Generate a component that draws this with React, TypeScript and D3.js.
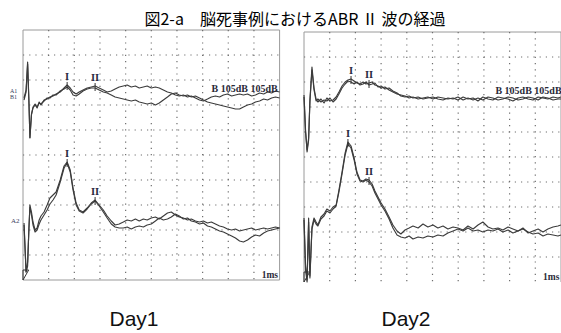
import React, { useRef, useEffect } from 'react';
import * as d3 from 'd3';

// time axis (ms) shared by the traces of each day
const day1Time = [0.04, 0.12, 0.18, 0.23, 0.27, 0.33, 0.39, 0.47, 0.55, 0.63, 0.70, 0.82, 0.94, 1.05, 1.17, 1.29, 1.45, 1.60, 1.72, 1.84,
  1.95, 2.07, 2.19, 2.34, 2.50, 2.66, 2.81, 2.97, 3.13, 3.28, 3.44, 3.59, 3.75, 3.91, 4.06, 4.22, 4.38, 4.53, 4.69, 4.84,
  5.00, 5.16, 5.31, 5.47, 5.63, 5.78, 5.94, 6.09, 6.25, 6.41, 6.56, 6.72, 6.88, 7.03, 7.19, 7.34, 7.50, 7.66, 7.81, 7.97,
  8.13, 8.28, 8.44, 8.59, 8.75, 8.91, 9.06, 9.22, 9.38, 9.53, 9.69, 9.84, 10.0];

const day2Time = [0, 0.06, 0.12, 0.18, 0.23, 0.31, 0.39, 0.47, 0.54, 0.66, 0.78, 0.89, 1.01, 1.13, 1.25, 1.36, 1.48, 1.60, 1.71, 1.83,
  1.95, 2.06, 2.18, 2.30, 2.41, 2.53, 2.65, 2.76, 2.88, 3.0, 3.15, 3.31, 3.46, 3.62, 3.77, 3.93, 4.09, 4.24,
  4.44, 4.63, 4.82, 5.02, 5.21, 5.41, 5.60, 5.80, 5.99, 6.19, 6.38, 6.58, 6.77, 6.96, 7.16, 7.35, 7.55, 7.74, 7.94, 8.13,
  8.33, 8.52, 8.72, 8.91, 9.11, 9.30, 9.49, 9.69, 9.88, 10.0];

// amplitudes (divisions) - Day1, A1/B1 channel
const day1A1 = [2.28, 2.6, 3.72, 2.2, 0.68, 1.6, 1.92, 2.04, 1.88, 2.12, 2.0, 2.2, 2.24, 2.32, 2.36, 2.44, 2.52, 2.68, 2.8, 2.68,
  2.52, 2.44, 2.52, 2.6, 2.68, 2.72, 2.76, 2.68, 2.6, 2.52, 2.56, 2.64, 2.72, 2.76, 2.8, 2.72, 2.76, 2.68, 2.72, 2.76,
  2.68, 2.72, 2.68, 2.6, 2.52, 2.48, 2.4, 2.36, 2.4, 2.32, 2.36, 2.28, 2.2, 2.16, 2.24, 2.32, 2.36, 2.32, 2.4, 2.44,
  2.36, 2.4, 2.44, 2.4, 2.44, 2.36, 2.4, 2.48, 2.44, 2.52, 2.48, 2.56, 2.52];
const day1B1 = [2.2, 2.52, 3.64, 2.12, 0.7, 1.64, 1.88, 2.0, 1.92, 2.08, 2.04, 2.16, 2.28, 2.28, 2.4, 2.4, 2.56, 2.64, 2.72, 2.6,
  2.4, 2.36, 2.44, 2.56, 2.64, 2.68, 2.68, 2.6, 2.52, 2.48, 2.4, 2.32, 2.28, 2.24, 2.2, 2.16, 2.2, 2.12, 2.08, 2.04,
  2.08, 2.0, 2.08, 2.2, 2.32, 2.44, 2.48, 2.4, 2.36, 2.4, 2.32, 2.36, 2.28, 2.2, 2.12, 2.08, 2.04, 2.0, 1.96, 1.92,
  1.88, 1.84, 1.84, 1.92, 2.0, 2.04, 2.12, 2.16, 2.24, 2.2, 2.28, 2.32, 2.28];

// Day1, A2/B2 channel
const day1A2 = [-2.72, -4.68, -4.28, -3.0, -2.0, -2.28, -2.68, -3.0, -2.92, -2.6, -2.44, -2.28, -2.0, -1.72, -1.6, -1.48, -1.0, -0.44, -0.28, -0.6,
  -1.32, -1.92, -2.2, -2.28, -2.12, -1.92, -1.8, -2.0, -2.2, -2.44, -2.64, -2.8, -2.76, -2.68, -2.6, -2.64, -2.56, -2.64, -2.56, -2.6,
  -2.52, -2.48, -2.56, -2.44, -2.32, -2.28, -2.4, -2.48, -2.52, -2.6, -2.56, -2.64, -2.68, -2.64, -2.72, -2.68, -2.76, -2.84, -2.88, -2.96,
  -3.0, -2.96, -3.04, -3.0, -2.96, -2.92, -3.0, -2.96, -2.92, -2.96, -2.92, -2.88, -2.92];
const day1B2 = [-2.8, -4.68, -4.44, -2.92, -2.08, -2.4, -2.8, -3.08, -3.0, -2.76, -2.6, -2.4, -2.2, -1.96, -1.8, -1.6, -1.08, -0.52, -0.32, -0.68,
  -1.4, -2.0, -2.24, -2.32, -2.16, -1.96, -1.84, -2.04, -2.28, -2.52, -2.76, -2.88, -2.92, -2.92, -2.88, -2.96, -2.88, -2.84, -2.88, -2.8,
  -2.76, -2.64, -2.52, -2.6, -2.56, -2.48, -2.36, -2.44, -2.56, -2.52, -2.64, -2.68, -2.76, -2.72, -2.84, -2.88, -2.96, -3.04, -3.08, -3.16,
  -3.24, -3.32, -3.44, -3.48, -3.4, -3.28, -3.2, -3.24, -3.12, -3.04, -3.0, -2.96, -2.92];

// Day2, A1/B1 channel
const day2A1 = [2.48, 1.08, 0.2, 0.68, 2.28, 3.6, 2.76, 2.32, 2.2, 2.32, 2.16, 2.36, 2.24, 2.28, 2.4, 2.6, 2.84, 3.0, 3.08, 3.12,
  3.04, 2.96, 2.92, 3.0, 2.92, 2.96, 3.0, 2.88, 2.84, 2.76, 2.8, 2.68, 2.6, 2.52, 2.48, 2.44, 2.36, 2.4,
  2.32, 2.36, 2.4, 2.32, 2.4, 2.36, 2.32, 2.36, 2.28, 2.4, 2.32, 2.36, 2.24, 2.4, 2.32, 2.28, 2.4, 2.36, 2.32, 2.24,
  2.36, 2.4, 2.32, 2.28, 2.4, 2.36, 2.32, 2.4, 2.36, 2.4];
const day2B1 = [2.4, 1.0, 0.28, 0.76, 2.2, 3.48, 2.68, 2.24, 2.32, 2.2, 2.28, 2.24, 2.36, 2.2, 2.32, 2.52, 2.76, 2.92, 3.04, 3.0,
  2.92, 3.0, 2.88, 2.92, 3.0, 2.88, 2.92, 2.96, 2.8, 2.84, 2.72, 2.76, 2.64, 2.56, 2.44, 2.4, 2.44, 2.36,
  2.4, 2.32, 2.36, 2.4, 2.32, 2.28, 2.36, 2.32, 2.4, 2.28, 2.36, 2.28, 2.36, 2.28, 2.4, 2.36, 2.28, 2.32, 2.4, 2.36,
  2.28, 2.32, 2.4, 2.36, 2.28, 2.4, 2.36, 2.28, 2.32, 2.32];

// Day2, A2/B2 channel
const day2A2 = [-2.44, -4.32, -4.92, -2.44, -4.84, -2.8, -2.44, -2.6, -2.72, -2.4, -2.28, -2.08, -2.16, -2.0, -1.92, -1.32, -0.6, 0.16, 0.6, 0.44,
  -0.04, -0.6, -0.92, -0.96, -0.88, -0.92, -1.08, -1.36, -1.6, -1.84, -2.08, -2.4, -2.72, -2.96, -3.08, -2.92, -2.84, -2.76,
  -2.84, -2.68, -2.8, -2.72, -2.84, -2.76, -2.88, -2.8, -2.84, -2.92, -2.76, -2.88, -2.72, -2.6, -2.8, -2.88, -2.84, -2.92, -2.8, -2.88,
  -2.96, -2.84, -3.04, -2.96, -2.88, -3.0, -2.88, -2.8, -2.76, -2.72];
const day2B2 = [-2.52, -4.52, -5.0, -2.6, -4.76, -2.88, -2.52, -2.68, -2.76, -2.48, -2.36, -2.16, -2.24, -2.08, -1.96, -1.4, -0.68, 0.08, 0.52, 0.36,
  -0.12, -0.68, -0.96, -1.0, -0.92, -1.0, -1.16, -1.44, -1.68, -1.92, -2.16, -2.48, -2.84, -3.12, -3.2, -3.24, -3.16, -3.28,
  -3.2, -3.24, -3.16, -3.2, -3.12, -3.16, -3.04, -2.96, -2.88, -2.96, -2.84, -2.96, -2.92, -3.0, -2.92, -2.96, -2.88, -3.0, -2.92, -3.04,
  -2.96, -2.88, -3.0, -3.08, -3.04, -3.16, -3.08, -3.12, -3.16, -3.12];

// wave peaks: label, latency (ms), amplitude
const peakLabels = ['I', 'II'];
const day1TopPeaks = [[1.72, 2.8], [2.81, 2.76]];
const day1BottomPeaks = [[1.72, -0.28], [2.81, -1.8]];
const day2TopPeaks = [[1.83, 3.12], [2.53, 2.96]];
const day2BottomPeaks = [[1.71, 0.6], [2.53, -0.92]];

const titleText = '図2-a　脳死事例におけるABR Ⅱ 波の経過';
const dayLabels = ['Day1', 'Day2'];
const stimLabel = 'B 105dB 105dB';
const scaleLabel = '1ms';

const App = () => {
  const svgRef = useRef(null);

  useEffect(() => {
    const svg = d3.select(svgRef.current);
    svg.selectAll('*').remove();

    const panels = [
      { x0: 23, x1: 279.6, y0: 30, y1: 280, time: day1Time, top: [day1A1, day1B1], bottom: [day1A2, day1B2],
        topPeaks: day1TopPeaks, bottomPeaks: day1BottomPeaks, channels: true, bottomBorder: true, stimAt: 7.35 },
      { x0: 304, x1: 561, y0: 32, y1: 282, time: day2Time, top: [day2A1, day2B1], bottom: [day2A2, day2B2],
        topPeaks: day2TopPeaks, bottomPeaks: day2BottomPeaks, channels: false, bottomBorder: false, stimAt: 7.45 },
    ];

    svg.append('text')
      .attr('x', 295).attr('y', 25)
      .attr('text-anchor', 'middle')
      .style('font-family', '"Noto Sans CJK JP", sans-serif')
      .style('font-size', '16px')
      .attr('fill', '#000')
      .text(titleText);

    panels.forEach((p, i) => {
      const x = d3.scaleLinear().domain([0, 10]).range([p.x0, p.x1]);
      const y = d3.scaleLinear().domain([-5, 5]).range([p.y1, p.y0]);
      const g = svg.append('g');

      // frame
      g.append('line').attr('x1', p.x0).attr('x2', p.x1).attr('y1', p.y0).attr('y2', p.y0).attr('stroke', '#9a9a9a');
      g.append('line').attr('x1', p.x0).attr('x2', p.x0).attr('y1', p.y0).attr('y2', p.y1).attr('stroke', '#9a9a9a');
      g.append('line').attr('x1', p.x1).attr('x2', p.x1).attr('y1', p.y0).attr('y2', p.y1).attr('stroke', '#9a9a9a');
      if (p.bottomBorder) {
        g.append('line').attr('x1', p.x0).attr('x2', p.x1).attr('y1', p.y1).attr('y2', p.y1).attr('stroke', '#9a9a9a');
      }

      // dotted grid
      const ticks = d3.range(1, 10);
      g.selectAll('.vg').data(ticks).enter().append('line')
        .attr('x1', d => x(d)).attr('x2', d => x(d))
        .attr('y1', p.y0).attr('y2', p.y1)
        .attr('stroke', '#6e6e6e').attr('stroke-width', 1.2).attr('stroke-dasharray', '1.2 5');
      g.selectAll('.hg').data(ticks.map(d => d - 5)).enter().append('line')
        .attr('x1', p.x0).attr('x2', p.x1)
        .attr('y1', d => y(d)).attr('y2', d => y(d))
        .attr('stroke', '#6e6e6e').attr('stroke-width', 1.2).attr('stroke-dasharray', '1.2 5');

      const line = d3.line<number>()
        .x((d, k) => x(p.time[k]))
        .y(d => y(d));

      [...p.top, ...p.bottom].forEach(vals => {
        g.append('path')
          .attr('d', line(vals))
          .attr('fill', 'none')
          .attr('stroke', '#3c3c3c')
          .attr('stroke-width', 1.15)
          .attr('stroke-linejoin', 'round');
      });

      // stimulus marker at the bottom left
      g.append('path')
        .attr('d', `M${x(0)},${y(-4.6)}L${x(0.22)},${y(-4.6)}L${x(0)},${y(-5)}Z`)
        .attr('fill', 'none').attr('stroke', '#333').attr('stroke-width', 1);

      // peak ticks and labels
      [...p.topPeaks, ...p.bottomPeaks].forEach((pk, k) => {
        const px = x(pk[0]);
        const py = y(pk[1]);
        g.append('line').attr('x1', px).attr('x2', px).attr('y1', py - 3).attr('y2', py + 5)
          .attr('stroke', '#333').attr('stroke-width', 1);
        g.append('text')
          .attr('x', px).attr('y', py - 5)
          .attr('text-anchor', 'middle')
          .style('font-family', '"Liberation Serif", serif')
          .style('font-weight', 'bold')
          .style('font-size', '10.5px')
          .attr('fill', '#262a40')
          .text(peakLabels[k % 2]);
      });

      g.append('text')
        .attr('x', x(p.stimAt)).attr('y', y(2.52))
        .style('font-family', '"Liberation Serif", serif')
        .style('font-weight', 'bold')
        .style('font-size', '10px')
        .attr('fill', '#2a2a38')
        .text(stimLabel);

      g.append('text')
        .attr('x', x(9.3)).attr('y', y(-4.9))
        .style('font-family', '"Liberation Serif", serif')
        .style('font-weight', 'bold')
        .style('font-size', '9.5px')
        .attr('fill', '#2a2a38')
        .text(scaleLabel);

      if (p.channels) {
        g.append('text').attr('x', 10).attr('y', y(2.5))
          .style('font-family', '"Liberation Serif", serif').style('font-size', '6px').attr('fill', '#3a4060').text('A1');
        g.append('text').attr('x', 10).attr('y', y(2.24))
          .style('font-family', '"Liberation Serif", serif').style('font-size', '6px').attr('fill', '#3a4060').text('B1');
        g.append('text').attr('x', 11).attr('y', y(-2.72))
          .style('font-family', '"Liberation Serif", serif').style('font-size', '7px').attr('fill', '#3a4060').text('A2');
      }

      svg.append('text')
        .attr('x', i === 0 ? 134 : 406).attr('y', 326)
        .attr('text-anchor', 'middle')
        .style('font-family', '"Liberation Sans", sans-serif')
        .style('font-size', '21px')
        .attr('fill', '#111')
        .text(dayLabels[i]);
    });
  }, []);

  return (
    <svg ref={svgRef} width={561} height={333}
      style={{ position: 'absolute', left: 0, top: 0, background: '#fff' }} />
  );
};

export default App;
